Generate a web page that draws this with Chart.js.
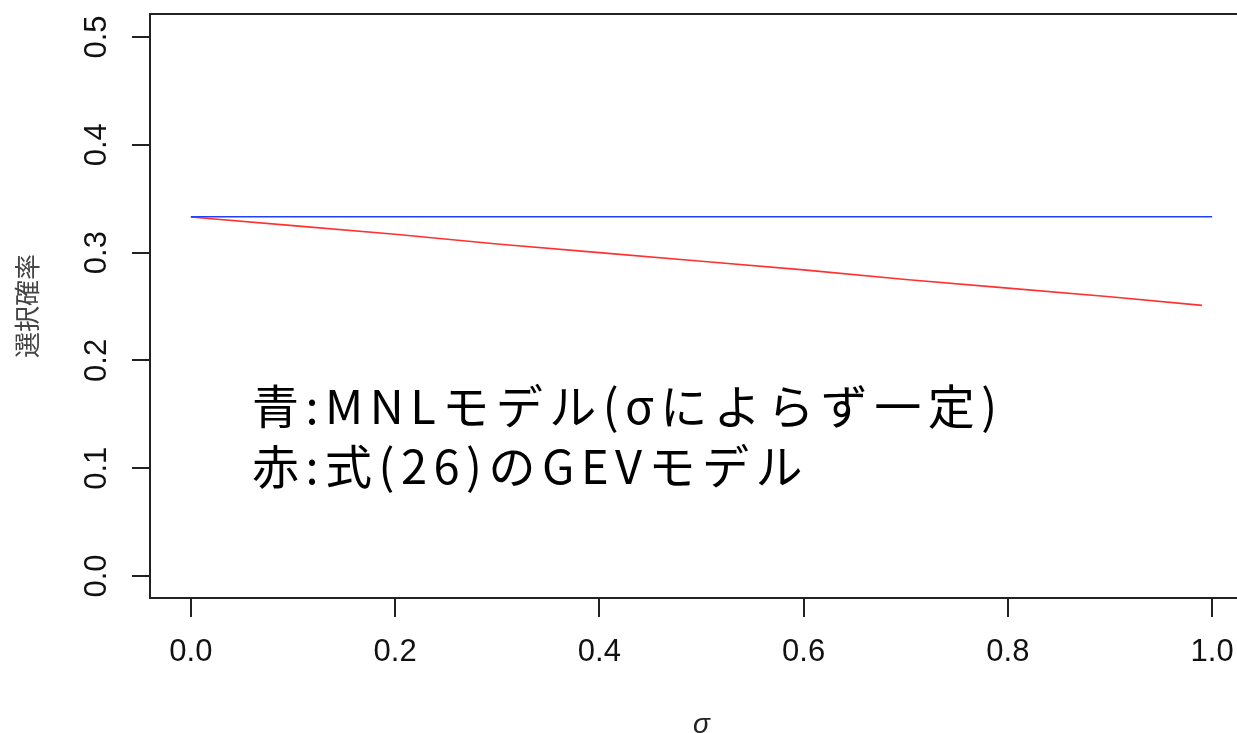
<!DOCTYPE html>
<html>
<head>
<meta charset="utf-8">
<script src="https://cdn.jsdelivr.net/npm/chart.js@4/dist/chart.umd.min.js"></script>
<style>
html,body{margin:0;padding:0;background:#fff;overflow:hidden;}
#wrap{width:1260px;height:733px;}
</style>
</head>
<body>
<div id="wrap"><canvas id="c" width="1260" height="733"></canvas></div>
<script>
// ---- data ----
const sigmaMNL = [0, 1.0];
const probMNL = [0.3333, 0.3333];
const sigmaGEV = [0, 0.1, 0.2, 0.3, 0.4, 0.5, 0.6, 0.7, 0.8, 0.9, 0.99];
const probGEV = [0.333, 0.325, 0.317, 0.308, 0.300, 0.292, 0.284, 0.275, 0.267, 0.259, 0.251];
const xTicks = [0, 0.2, 0.4, 0.6, 0.8, 1.0];
const yTicks = [0, 0.1, 0.2, 0.3, 0.4, 0.5];
const xTitle = 'σ';
const yTitle = '選択確率';
const noteLines = ['青:MNLモデル(σによらず一定)', '赤:式(26)のGEVモデル'];

const toPts = (xs, ys) => xs.map((x, i) => ({x: x, y: ys[i]}));
const AX = '#222';
const tickFont = {family: '"Liberation Sans", Arial, sans-serif', size: 31};

const boxPlugin = {
  id: 'box',
  afterDraw(chart) {
    const {ctx, chartArea: a} = chart;
    ctx.save();
    ctx.strokeStyle = AX;
    ctx.lineWidth = 2;
    ctx.strokeRect(a.left, a.top, a.right - a.left, a.bottom - a.top);
    ctx.restore();
  }
};
const notePlugin = {
  id: 'note',
  afterDraw(chart) {
    const ctx = chart.ctx;
    ctx.save();
    ctx.fillStyle = '#000';
    ctx.font = '47px "Noto Sans CJK JP", sans-serif';
    try { ctx.letterSpacing = '6.5px'; } catch (e) {}
    ctx.textBaseline = 'alphabetic';
    ctx.textAlign = 'left';
    ctx.fillText(noteLines[0], 252, 424);
    ctx.fillText(noteLines[1], 252, 484);
    ctx.restore();
  }
};

new Chart(document.getElementById('c'), {
  type: 'scatter',
  data: {
    datasets: [
      {data: toPts(sigmaMNL, probMNL), showLine: true, borderColor: '#2040ff', borderWidth: 1.6, pointRadius: 0, fill: false},
      {data: toPts(sigmaGEV, probGEV), showLine: true, borderColor: '#ff3030', borderWidth: 1.6, pointRadius: 0, fill: false}
    ]
  },
  options: {
    responsive: false,
    animation: false,
    layout: {padding: {top: 14, right: 7, left: 0, bottom: 0}},
    plugins: {legend: {display: false}, tooltip: {enabled: false}},
    scales: {
      x: {
        type: 'linear', min: -0.04, max: 1.04,
        afterBuildTicks: s => { s.ticks = xTicks.map(v => ({value: v})); },
        afterFit: s => { s.height = 135; s.paddingLeft = 0; s.paddingRight = 0; },
        grid: {drawOnChartArea: false, drawTicks: true, tickLength: 19, color: AX, lineWidth: 2},
        border: {display: true, color: AX, width: 2},
        ticks: {font: tickFont, color: '#111', padding: 17, maxRotation: 0, callback: v => v.toFixed(1)},
        title: {display: true, text: xTitle, color: '#222', font: {family: '"Liberation Sans", Arial, sans-serif', size: 28, style: 'italic', lineHeight: 1}, padding: {top: 0, bottom: -6}}
      },
      y: {
        type: 'linear', min: -0.0204, max: 0.5213,
        afterBuildTicks: s => { s.ticks = yTicks.map(v => ({value: v})); },
        afterFit: s => { s.width = 150; s.paddingTop = 0; s.paddingBottom = 0; },
        grid: {drawOnChartArea: false, drawTicks: true, tickLength: 18, color: AX, lineWidth: 2},
        border: {display: true, color: AX, width: 2},
        ticks: {font: tickFont, color: '#111', padding: 13, minRotation: 90, maxRotation: 90, crossAlign: 'center', callback: v => v.toFixed(1)},
        title: {display: true, text: yTitle, color: '#444', font: {family: '"Noto Sans CJK JP", sans-serif', size: 26, lineHeight: 1.2}, padding: {top: 12, bottom: 0}}
      }
    }
  },
  plugins: [boxPlugin, notePlugin]
});
</script>
</body>
</html>
